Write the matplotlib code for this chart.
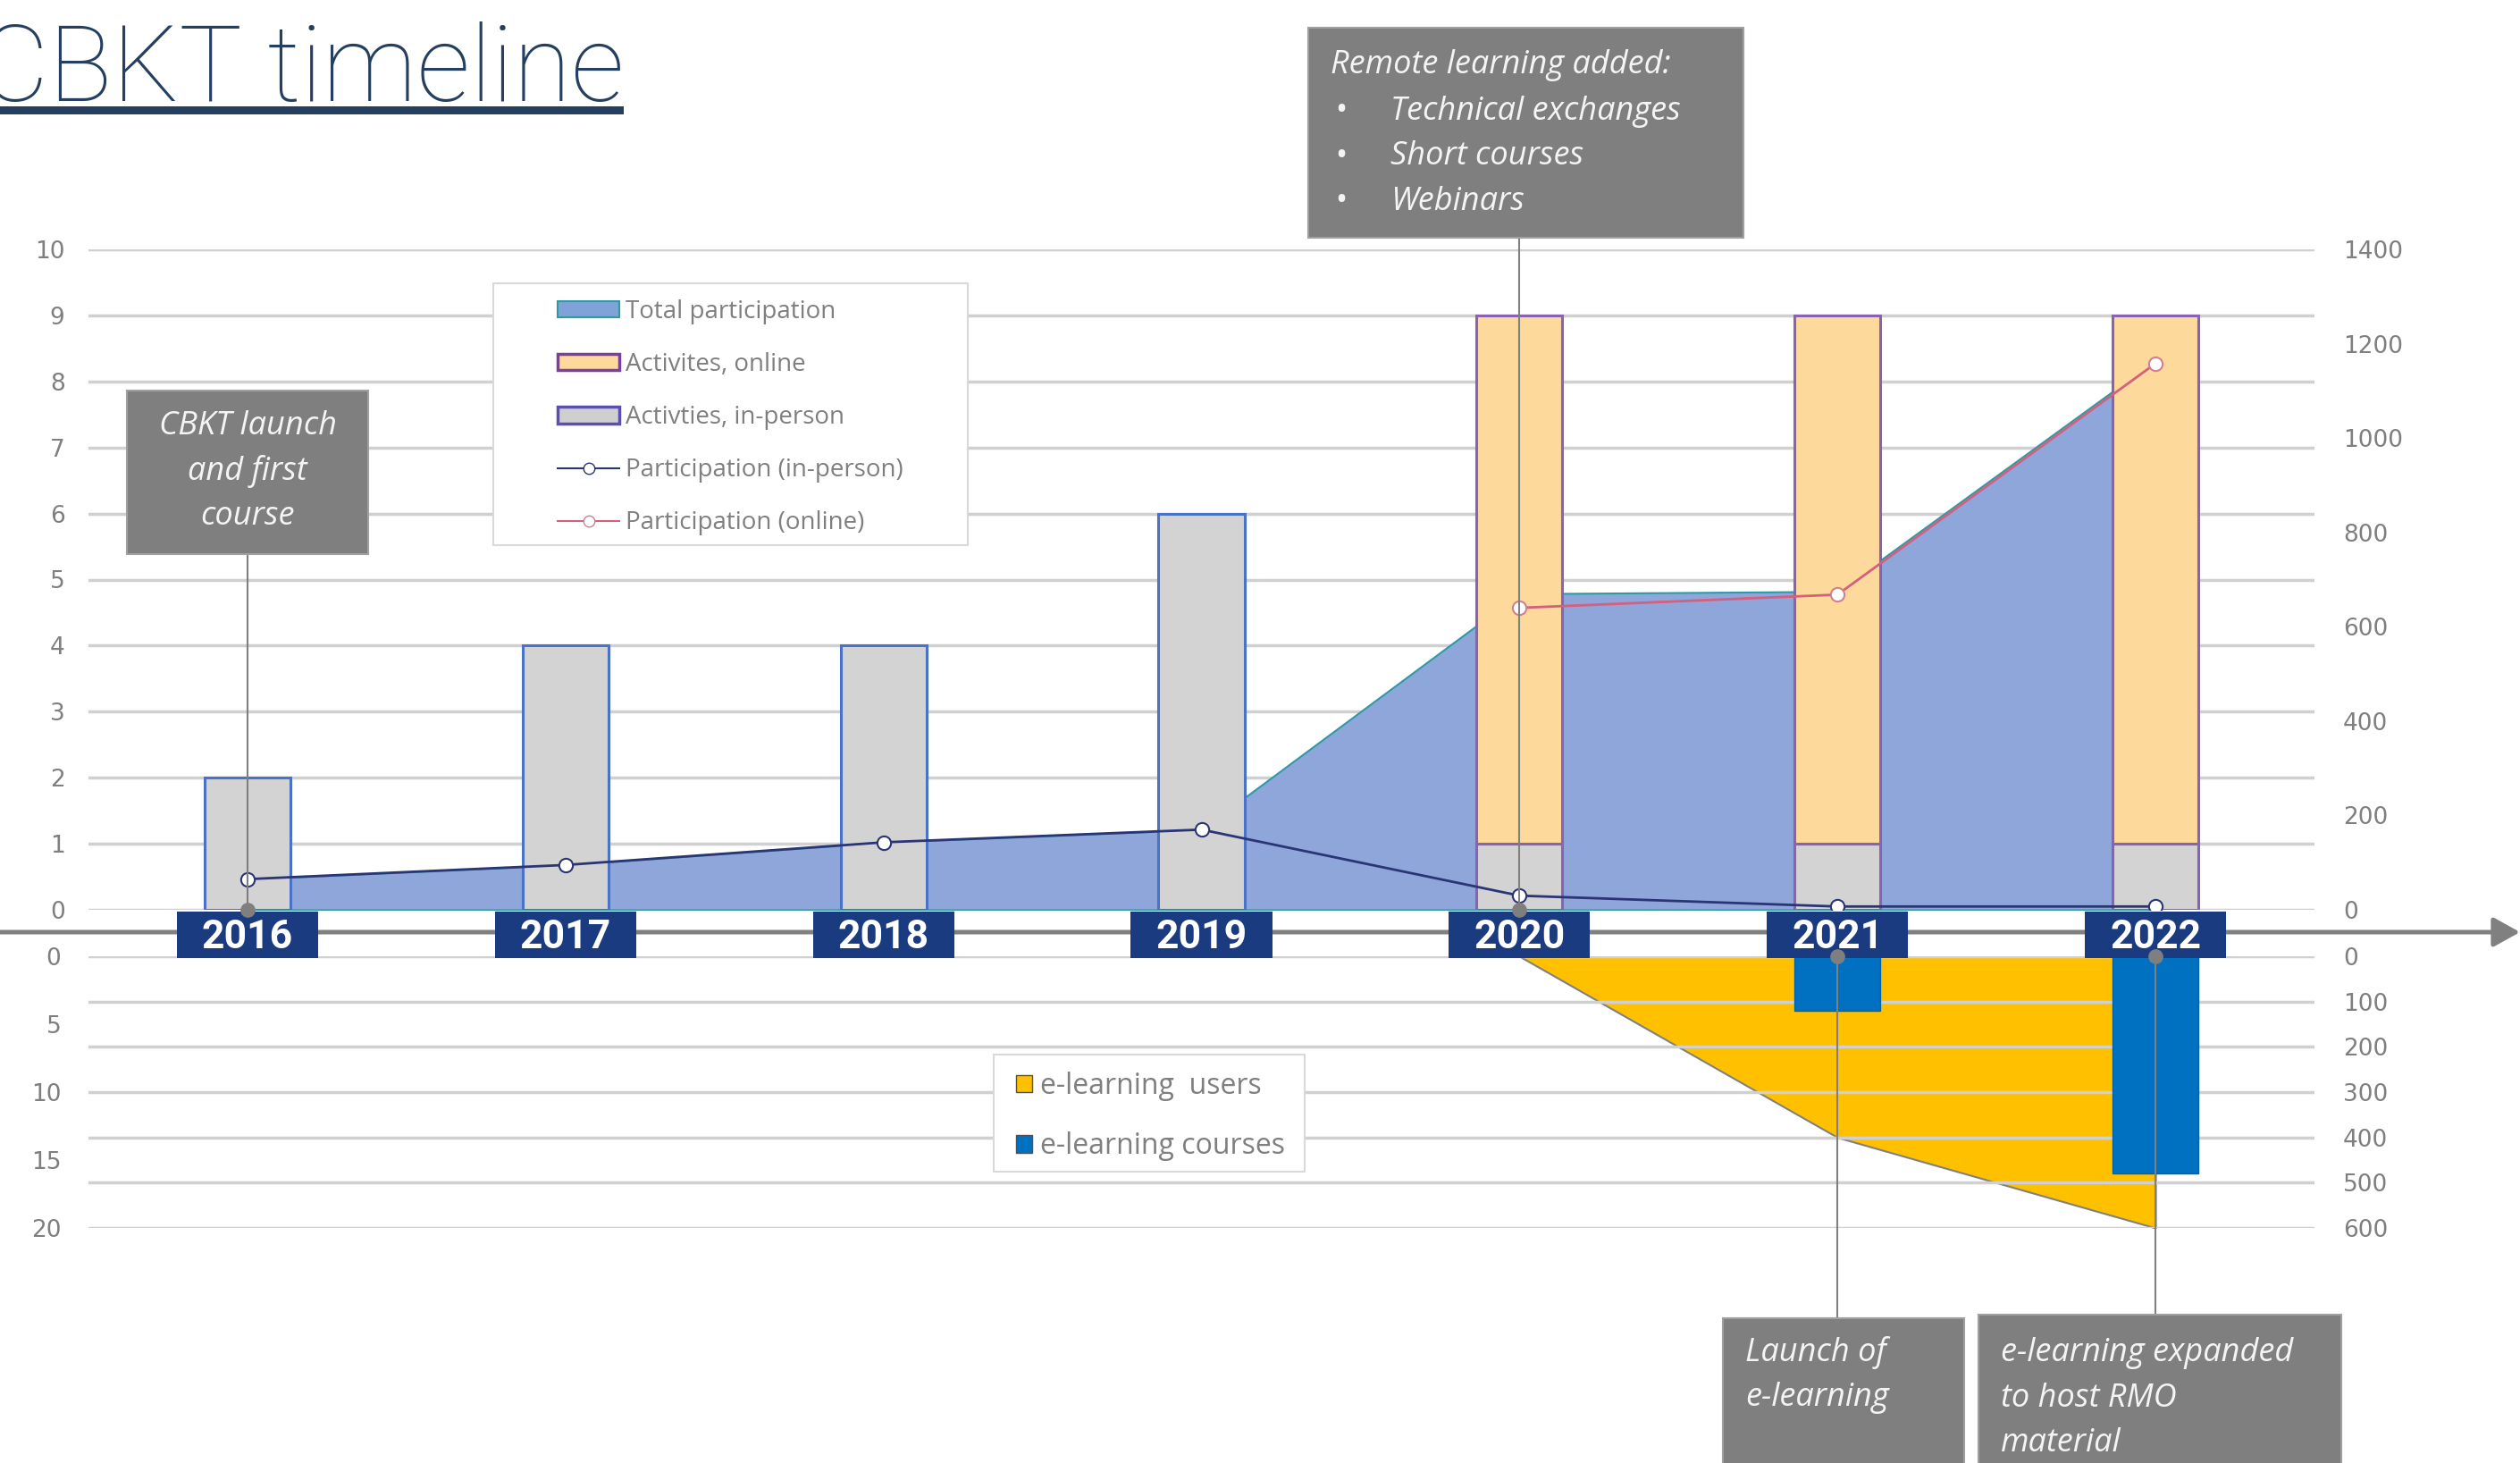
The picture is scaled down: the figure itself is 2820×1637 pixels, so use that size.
import numpy as np
import matplotlib
matplotlib.use('Agg')
import matplotlib.pyplot as plt
from matplotlib.patches import Rectangle, Patch, FancyArrowPatch, ArrowStyle
from matplotlib.lines import Line2D
from matplotlib.transforms import blended_transform_factory as blend

# ---------------- data ----------------
years = ['2016', '2017', '2018', '2019', '2020', '2021', '2022']
activities_inperson = [2, 4, 4, 6, 1, 1, 1]
activities_online = [0, 0, 0, 0, 8, 8, 8]
participation_inperson = [65, 95, 143, 170, 30, 7, 7]
participation_online = [np.nan, np.nan, np.nan, np.nan, 640, 668, 1158]
total_participation = [65, 95, 143, 170, 670, 675, 1165]
elearning_years = ['2020', '2021', '2022']
elearning_users = [0, 400, 600]
elearning_courses = [0, 4, 16]
upper_left_ticks = list(range(0, 11))
upper_right_ticks = list(range(0, 1401, 200))
lower_left_ticks = list(range(0, 21, 5))
lower_right_ticks = list(range(0, 601, 100))

# ---------------- layout ----------------
W, H, DPI = 2820, 1637, 100
fig = plt.figure(figsize=(W / DPI, H / DPI), dpi=DPI)
fig.patch.set_facecolor('white')


def fx(p):
    return p / W


def fy(p):
    return 1 - p / H


GRID = '#D0D0D0'
TICK = '#7F7F7F'
NUMF = ['DejaVu Sans']
TXTF = ['Open Sans', 'DejaVu Sans']
X0, X1 = 99, 2590
UT, UB = 279, 1018
LT, LB = 1070, 1374
BW = 0.27

x = np.arange(len(years))
ex = np.array([years.index(y) for y in elearning_years])


def style_axis(ax):
    for s in ax.spines.values():
        s.set_visible(False)
    ax.set_xlim(-0.5, len(years) - 0.5)
    ax.set_xticks([])
    ax.tick_params(axis='y', length=0, labelsize=19, labelcolor=TICK)
    ax.patch.set_visible(False)


# ---- upper chart ----
ax1 = fig.add_axes([fx(X0), fy(UB), fx(X1) - fx(X0), fy(UT) - fy(UB)])
ax1a = ax1.twinx()
ax1b = ax1.twinx()
ax1c = ax1.twinx()
for a in (ax1, ax1a, ax1b, ax1c):
    style_axis(a)

ax1.set_ylim(0, 10)
ax1.set_yticks(upper_left_ticks)
ax1.yaxis.grid(True, color=GRID, lw=2.5)
ax1.tick_params(axis='y', left=False, right=False, labelleft=True, labelright=False, pad=19)

ax1a.set_ylim(0, 1400)
ax1a.set_yticks(upper_right_ticks)
ax1a.tick_params(axis='y', left=False, right=False, labelleft=False, labelright=True, pad=23)
ax1a.fill_between(x, 0, total_participation, facecolor='#8FA6DB', edgecolor='#2E9AA6', lw=1.5)

ax1b.set_ylim(0, 10)
ax1b.set_yticks([])
inp_edges = ['#8A62B4' if o > 0 else '#4A72C6' for o in activities_online]
ax1b.bar(x, activities_inperson, width=BW, color='#D3D3D3', edgecolor=inp_edges, lw=2.2)
on_idx = [i for i, o in enumerate(activities_online) if o > 0]
ax1b.bar(x[on_idx], [activities_online[i] for i in on_idx], width=BW,
         bottom=[activities_inperson[i] for i in on_idx],
         color='#FDD99B', edgecolor='#8A62B4', lw=2.2)

ax1c.set_ylim(0, 1400)
ax1c.set_yticks([])
NAVY = '#2B3575'
PINK = '#D4607E'
ax1c.plot(x, participation_inperson, color=NAVY, lw=2, marker='o', ms=11,
          mfc='white', mec=NAVY, mew=1.5, zorder=5)
ax1c.plot(x, participation_online, color=PINK, lw=2, marker='o', ms=11,
          mfc='white', mec='#D08090', mew=1.5, zorder=5)

# ---- lower chart ----
ax2 = fig.add_axes([fx(X0), fy(LB), fx(X1) - fx(X0), fy(LT) - fy(LB)])
ax2b = ax2.twinx()
for a in (ax2, ax2b):
    style_axis(a)
ax2.set_ylim(600, 0)
ax2.set_yticks(lower_right_ticks)
ax2.yaxis.grid(True, color=GRID, lw=2.5)
ax2.tick_params(axis='y', left=False, right=False, labelleft=False, labelright=True, pad=23)
ax2.fill_between(ex, 0, elearning_users, facecolor='#FFC000', edgecolor='#808080', lw=1.5)

ax2b.set_ylim(20, 0)
ax2b.set_yticks(lower_left_ticks)
ax2b.tick_params(axis='y', left=False, right=False, labelleft=True, labelright=False, pad=22)
ax2b.bar(ex, elearning_courses, width=BW, color='#0070C0', edgecolor='#0063AA', lw=1)

for a in (ax1, ax1a, ax2, ax2b):
    for lab in a.get_yticklabels():
        lab.set_family(NUMF)

# ---- horizontal timeline arrow ----
arrow = FancyArrowPatch((0, fy(1043)), (1.0, fy(1043)), transform=fig.transFigure,
                        arrowstyle=ArrowStyle('-|>', head_length=0.9, head_width=0.5),
                        mutation_scale=20, color='#808080', lw=3.6,
                        shrinkA=0, shrinkB=0, zorder=2)
fig.add_artist(arrow)

# ---- year labels ----
tb = blend(ax1.transData, fig.transFigure)
for i, yr in enumerate(years):
    fig.add_artist(Rectangle((i - 0.222, fy(1072)), 0.444, fy(1020) - fy(1072),
                             transform=tb, facecolor='#1B3B80', edgecolor='none', zorder=3))
    fig.text(i, fy(1049), yr, transform=tb, ha='center', va='center', fontsize=32,
             color='white', fontweight='bold',
             family=['Roboto', 'DejaVu Sans'], zorder=4)

# ---- annotation callouts ----
BOXC = '#7F7F7F'
ANNF = dict(family=TXTF, style='italic', color='#F4F4F4', fontsize=26, zorder=7)


def box(x0, y0, x1, y1):
    fig.add_artist(Rectangle((fx(x0), fy(y1)), fx(x1) - fx(x0), fy(y0) - fy(y1),
                             transform=fig.transFigure, facecolor=BOXC,
                             edgecolor='#A0A0A0', lw=1.5, zorder=6))


def connector(year, y_a, y_b):
    i = years.index(year)
    fig.add_artist(Line2D([i, i], [fy(y_a), fy(y_b)], transform=tb,
                          color='#7F7F7F', lw=1.5, zorder=5))


def dot(year, ax):
    i = years.index(year)
    fig.add_artist(Line2D([i], [0], transform=ax.transData, marker='o', ms=11,
                          color='#7F7F7F', lw=0, zorder=8))


# CBKT launch
box(142, 437, 412, 620)
connector('2016', 620, UB)
dot('2016', ax1c)
for k, line in enumerate(['CBKT launch', 'and first', 'course']):
    fig.text(fx(277), fy(477 + 50.5 * k), line, ha='center', va='center', **ANNF)

# Remote learning
box(1464, 31, 1951, 266)
connector('2020', 266, UB)
dot('2020', ax1c)
fig.text(fx(1489), fy(73), 'Remote learning added:', ha='left', va='center', **ANNF)
for k, item in enumerate(['Technical exchanges', 'Short courses', 'Webinars']):
    yy = fy(125 + 50.5 * k)
    fig.text(fx(1493), yy, '\u2022', ha='left', va='center', **ANNF)
    fig.text(fx(1556), yy, item, ha='left', va='center', **ANNF)

# Launch of e-learning
box(1928, 1475, 2198, 1645)
connector('2021', LT, 1475)
dot('2021', ax2b)
for k, line in enumerate(['Launch of', 'e-learning']):
    fig.text(fx(1953), fy(1514 + 50.5 * k), line, ha='left', va='center', **ANNF)

# e-learning expanded
box(2214, 1471, 2620, 1645)
connector('2022', LT, 1471)
dot('2022', ax2b)
for k, line in enumerate(['e-learning expanded', 'to host RMO', 'material']):
    fig.text(fx(2239), fy(1514 + 50.5 * k), line, ha='left', va='center', **ANNF)

# ---- legends ----
fig.add_artist(Rectangle((fx(552), fy(610)), fx(1083) - fx(552), fy(317) - fy(610),
                         transform=fig.transFigure, facecolor='white',
                         edgecolor='#D9D9D9', lw=1.5, zorder=4))
h_up = [
    Patch(facecolor='#7FA2D8', edgecolor='#2E9AA6', lw=1.5),
    Patch(facecolor='#FDD99B', edgecolor='#7B3FA0', lw=2.5),
    Patch(facecolor='#CFCFCF', edgecolor='#5B4FB0', lw=2.5),
    Line2D([], [], color=NAVY, lw=1.5, marker='o', ms=9, mfc='white', mec=NAVY),
    Line2D([], [], color=PINK, lw=1.5, marker='o', ms=9, mfc='white', mec='#D08090'),
]
l_up = ['Total participation', 'Activites, online', 'Activties, in-person',
        'Participation (in-person)', 'Participation (online)']
leg1 = fig.legend(h_up, l_up, loc='center left', bbox_to_anchor=(fx(624), fy(467)),
                  bbox_transform=fig.transFigure, frameon=False,
                  prop={'family': TXTF, 'size': 20}, labelcolor='#7F7F7F',
                  handlelength=2.5, handleheight=0.65, handletextpad=0.25,
                  labelspacing=1.12, borderpad=0, borderaxespad=0)
leg1.set_zorder(5)

fig.add_artist(Rectangle((fx(1112), fy(1311)), fx(1460) - fx(1112), fy(1180) - fy(1311),
                         transform=fig.transFigure, facecolor='white',
                         edgecolor='#D9D9D9', lw=1.5, zorder=4))
h_lo = [Patch(facecolor='#FFC000', edgecolor='#505050', lw=1),
        Patch(facecolor='#0070C0', edgecolor='#505050', lw=1)]
l_lo = ['e-learning  users', 'e-learning courses']
leg2 = fig.legend(h_lo, l_lo, loc='center left', bbox_to_anchor=(fx(1137), fy(1249)),
                  bbox_transform=fig.transFigure, frameon=False,
                  prop={'family': TXTF, 'size': 23}, labelcolor='#7F7F7F',
                  handlelength=0.56, handleheight=0.56, handletextpad=0.3,
                  labelspacing=1.08, borderpad=0, borderaxespad=0)
leg2.set_zorder(5)

# ---- title ----
TITLEC = '#243F60'
fig.text(fx(-22), fy(113), 'CBKT timeline', ha='left', va='baseline', fontsize=85,
         color=TITLEC, family=['Roboto', 'DejaVu Sans'], fontweight='light')
fig.add_artist(Rectangle((0, fy(128)), fx(698), fy(119) - fy(128),
                         transform=fig.transFigure, facecolor=TITLEC,
                         edgecolor='none', zorder=3))

fig.savefig('out.png', dpi=DPI, facecolor='white')
